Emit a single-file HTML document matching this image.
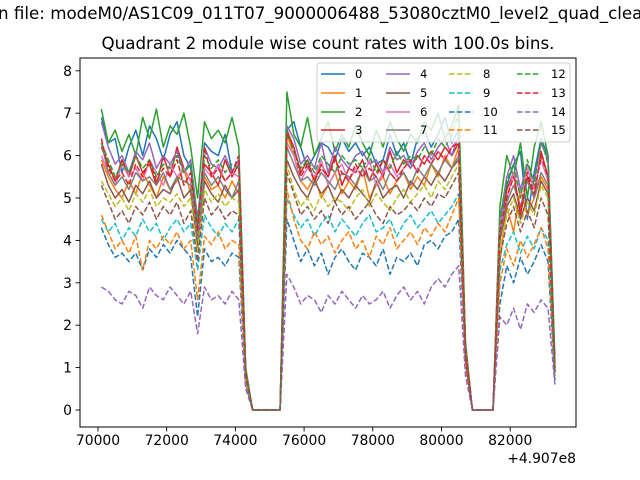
<!DOCTYPE html>
<html><head><meta charset="utf-8"><style>
html,body{margin:0;padding:0;background:#fff;overflow:hidden;width:640px;height:480px}
svg{position:absolute;left:0;top:0}
text{font-family:"DejaVu Sans","Liberation Sans",sans-serif;fill:#000}
</style></head><body>
<svg id="chart" width="640" height="480"></svg>
<script>
const times=[];for(let t=70100;t<=83300;t+=200)times.push(t);
const seriesNames=["0","1","2","3","4","5","6","7","8","9","10","11","12","13","14","15"];
const Z5=[0,0,0,0,0],Z4=[0,0,0,0];
const s0=[6.9,6.3,6.4,5.6,6.2,6.6,6.0,6.7,6.4,5.9,6.5,6.8,6.0,5.7,4.3,6.3,6.1,6.0,6.5,5.6,5.9,0.9,...Z5,6.6,6.8,6.2,5.7,6.0,6.3,6.2,5.9,6.4,6.1,6.3,6.0,6.2,5.8,5.9,6.5,6.0,6.3,5.8,6.4,6.6,6.2,6.5,6.9,6.3,6.6,1.5,...Z4,4.2,5.3,5.8,6.1,4.5,5.6,6.4,6.0,1.1];
const s1=[5.9,5.5,5.2,5.0,5.4,5.1,5.6,5.3,5.0,5.5,5.2,5.4,5.7,5.1,4.0,5.5,5.2,5.3,5.0,5.4,5.1,0.8,...Z5,6.5,6.0,5.4,5.2,5.5,5.0,5.3,5.6,5.1,5.4,5.2,5.7,5.0,5.3,5.5,5.1,5.4,5.6,5.2,5.5,5.3,5.8,5.5,6.0,5.7,6.2,1.4,...Z4,3.5,4.8,4.2,5.2,4.6,5.0,5.5,5.2,1.0];
const s2=[7.1,6.3,6.6,6.1,6.5,6.0,6.9,6.4,7.1,6.2,6.7,6.5,7.0,6.2,5.0,6.8,6.4,6.6,6.3,6.9,6.2,1.0,...Z5,7.5,6.5,6.2,6.9,6.0,6.4,6.8,6.1,6.5,6.2,6.7,6.3,6.0,6.6,6.2,6.8,6.4,6.1,6.5,6.3,6.8,6.6,7.0,6.4,6.7,7.2,1.6,...Z4,4.8,6.0,5.5,6.3,5.0,6.2,6.8,6.0,1.2];
const s3=[6.2,5.8,5.4,5.9,5.5,6.0,5.6,5.8,5.3,6.0,5.5,6.2,5.7,5.4,4.2,5.8,5.6,5.3,5.9,5.5,5.8,0.9,...Z5,6.6,6.2,5.6,5.9,5.4,5.8,5.5,6.0,5.3,5.7,5.6,5.9,5.4,5.8,5.5,6.1,5.6,5.9,5.7,6.0,5.8,6.1,5.9,6.2,6.0,6.3,1.5,...Z4,4.0,5.2,5.6,4.6,5.5,5.0,6.1,5.5,1.0];
const s4=[6.8,6.2,5.8,6.0,5.6,6.1,5.9,6.3,5.7,6.0,5.8,6.1,5.6,5.9,4.5,6.2,5.8,5.7,6.0,5.6,5.9,0.9,...Z5,6.7,6.4,5.8,6.0,5.7,6.3,5.6,6.2,5.9,5.7,6.0,6.1,5.8,5.9,5.6,6.2,5.9,6.0,5.7,6.1,6.3,5.9,6.2,6.4,6.0,6.5,1.4,...Z4,4.5,5.5,6.0,5.2,5.8,5.4,6.3,5.9,0.9];
const s5=[5.8,5.3,5.0,5.2,4.9,5.3,5.1,5.4,5.0,5.2,5.1,5.5,5.0,5.2,3.8,5.4,5.1,4.9,5.3,5.0,5.2,0.8,...Z5,5.9,5.5,5.2,5.0,5.4,5.1,5.3,4.9,5.2,5.0,5.3,5.1,4.9,5.4,5.0,5.2,5.3,5.0,5.4,5.2,5.5,5.3,5.6,5.4,5.7,5.9,1.3,...Z4,4.0,4.8,5.1,4.5,5.0,4.7,5.4,5.1,0.9];
const s6=[6.0,5.6,5.3,5.8,5.5,5.7,5.4,5.9,5.6,5.3,5.8,5.5,5.7,5.4,4.1,5.7,5.5,5.8,5.4,5.6,5.5,0.9,...Z5,6.3,6.0,5.4,5.7,5.5,5.9,5.3,5.6,5.8,5.4,5.7,5.5,5.9,5.3,5.6,5.8,5.5,5.7,5.9,5.6,6.0,5.8,6.1,5.9,6.2,6.4,1.4,...Z4,4.3,5.0,5.6,5.1,5.7,5.2,5.9,5.4,0.9];
const s7=[6.3,5.6,5.3,5.5,5.2,5.6,5.4,5.5,5.3,5.6,5.2,5.5,5.4,5.3,4.0,5.6,5.3,5.5,5.2,5.0,5.4,0.8,...Z5,6.2,5.8,5.4,5.5,5.3,5.6,5.4,5.2,5.6,5.5,5.3,5.7,5.4,5.5,5.2,5.6,5.4,5.6,5.3,5.7,5.5,5.8,5.6,5.9,5.7,6.0,1.3,...Z4,4.1,4.9,5.3,4.8,5.4,5.0,5.6,5.3,0.9];
const s8=[5.4,5.1,4.8,5.0,4.7,5.1,4.9,5.2,4.8,5.0,4.9,5.1,4.8,5.0,3.7,5.2,4.9,5.1,4.8,5.0,4.9,0.8,...Z5,5.8,5.2,4.8,5.0,4.7,5.1,4.8,5.0,4.9,4.7,5.0,5.2,4.8,5.1,4.9,4.7,5.0,5.2,4.9,5.1,5.3,5.0,5.4,5.2,5.5,5.8,1.3,...Z4,3.8,4.6,5.0,4.4,4.9,4.6,5.3,5.0,0.8];
const s9=[4.5,4.2,4.4,4.0,4.3,4.1,4.5,4.2,4.4,4.0,4.3,4.5,4.2,4.4,3.3,4.6,4.3,4.1,4.4,4.2,4.5,0.7,...Z5,5.0,4.6,4.3,4.5,4.1,4.4,4.6,4.2,4.5,4.3,4.1,4.4,4.6,4.2,4.3,4.5,4.1,4.4,4.6,4.3,4.5,4.7,4.4,4.6,4.8,5.1,1.1,...Z4,3.3,3.9,4.2,3.7,4.1,3.8,4.3,4.0,0.8];
const s10=[4.3,3.9,3.6,3.7,3.5,3.7,3.3,3.8,3.6,3.9,3.7,4.0,3.8,3.6,2.2,3.8,3.5,3.6,3.4,3.7,3.6,0.6,...Z5,4.5,4.0,3.5,3.8,3.4,3.7,3.2,3.6,3.8,3.5,3.3,3.7,3.6,3.4,3.8,3.2,3.6,3.5,3.7,3.4,3.9,4.0,3.8,4.1,4.2,4.5,1.0,...Z4,2.5,3.4,3.0,3.6,3.2,3.5,3.9,3.5,0.7];
const s11=[4.6,4.2,3.8,4.0,3.7,4.1,3.3,4.0,3.8,4.1,3.9,4.2,3.8,4.0,2.6,4.1,3.9,4.2,3.8,4.0,3.9,0.7,...Z5,5.2,4.5,4.0,3.8,4.2,3.9,4.1,3.7,4.0,4.2,3.8,4.0,3.6,4.1,3.9,4.3,3.8,4.0,4.2,3.9,4.3,4.1,4.4,4.2,4.6,5.0,1.1,...Z4,3.0,3.8,3.4,4.0,3.6,3.9,4.3,3.8,0.8];
const s12=[6.3,5.9,5.5,5.8,5.6,6.0,5.7,5.9,5.5,5.8,5.7,6.0,5.6,5.8,4.4,6.0,5.7,5.9,5.6,5.8,5.7,0.9,...Z5,6.6,6.1,5.7,5.9,5.6,6.0,5.8,5.6,6.0,5.8,5.9,5.7,6.0,5.6,5.9,5.7,6.1,5.8,6.0,5.9,6.2,6.0,6.4,6.2,6.5,7.0,1.5,...Z4,4.4,5.4,5.8,5.0,5.9,5.3,6.4,5.8,1.0];
const s13=[6.4,5.7,5.4,5.6,5.3,5.8,5.5,5.9,5.4,5.7,5.5,5.9,5.3,5.6,4.2,6.2,5.5,5.7,5.4,5.6,6.0,0.9,...Z5,6.5,6.2,5.5,5.8,5.4,5.7,5.5,5.9,5.6,5.4,5.8,5.5,5.7,5.5,5.9,5.6,5.4,5.7,5.9,5.6,6.0,5.8,6.1,5.9,6.2,6.3,1.4,...Z4,4.2,5.0,5.5,4.7,5.6,5.1,6.0,5.5,1.0];
const s14=[2.9,2.8,2.6,2.5,2.8,2.7,2.4,2.9,2.7,2.6,2.9,2.7,2.5,2.8,1.8,2.9,2.6,2.7,2.5,2.8,2.6,0.5,...Z5,3.2,2.9,2.5,2.7,2.6,2.3,2.7,2.5,2.8,2.6,2.4,2.7,2.5,2.6,2.8,2.4,2.7,2.9,2.6,2.8,2.5,2.9,3.1,2.9,3.2,3.4,0.8,...Z4,2.2,2.0,2.4,1.9,2.5,2.3,2.6,2.4,0.6];
const s15=[5.3,4.9,4.5,4.7,4.4,4.8,4.6,4.9,4.5,4.8,4.6,4.9,4.4,4.7,3.5,5.0,4.6,4.8,4.5,4.7,4.6,0.8,...Z5,5.6,5.1,4.6,4.8,4.5,4.7,4.4,4.9,4.6,4.8,4.5,4.7,4.9,4.6,4.4,4.8,4.6,4.7,4.9,4.7,5.0,4.8,5.1,5.0,5.3,5.6,1.2,...Z4,3.6,4.4,4.8,4.2,4.7,4.3,5.0,4.6,0.9];
const allSeries=[s0,s1,s2,s3,s4,s5,s6,s7,s8,s9,s10,s11,s12,s13,s14,s15];
const xTicks=[70000,72000,74000,76000,78000,80000,82000];
const yTicks=[0,1,2,3,4,5,6,7,8];

const colors=["#1f77b4","#ff7f0e","#2ca02c","#d62728","#9467bd","#8c564b","#e377c2","#7f7f7f","#bcbd22","#17becf","#1f77b4","#ff7f0e","#2ca02c","#d62728","#9467bd","#8c564b"];
const NS="http://www.w3.org/2000/svg";
const svg=document.getElementById('chart');
const L=80,R=576,T=58,B=427;
const xS=v=>98+(v-70000)*(68.7/2000);
const yS=v=>410-v*42.4;
function mk(tag,attrs,parent){const e=document.createElementNS(NS,tag);for(const k in attrs)e.setAttribute(k,attrs[k]);(parent||svg).appendChild(e);return e;}

const sup=mk('text',{x:-2,y:19,'font-size':'16.7'});sup.textContent="n file: modeM0/AS1C09_011T07_9000006488_53080cztM0_level2_quad_clean.evt";


const ttl=mk('text',{x:328,y:49,'font-size':'16.7','text-anchor':'middle'});ttl.textContent="Quadrant 2 module wise count rates with 100.0s bins.";



const plot=mk('g',{});


const cp=mk('clipPath',{id:'clp'});
mk('rect',{x:L,y:T,width:R-L,height:B-T},cp);

allSeries.forEach((s,i)=>{
  const n=Math.min(s.length,times.length);
  let d='';for(let j=0;j<n;j++)d+=(j?'L':'M')+xS(times[j]).toFixed(1)+','+yS(s[j]).toFixed(1);
  const p=mk('path',{d:d,fill:'none',stroke:colors[i],'stroke-width':1.5,'stroke-linejoin':'round','clip-path':'url(#clp)'},plot);
  if(i>=8)p.setAttribute('stroke-dasharray','5.5,2.4');
  
  
});

const frame=mk('rect',{x:L,y:T,width:R-L,height:B-T,fill:'none',stroke:'#000','stroke-width':1});



xTicks.forEach(v=>{
  const x=xS(v);
  mk('line',{x1:x,x2:x,y1:B,y2:B+4.5,stroke:'#000','stroke-width':0.9});
  const t=mk('text',{x:x,y:B+18,'font-size':'13.9','text-anchor':'middle'});t.textContent=v;
  
  
});
yTicks.forEach(v=>{
  const y=yS(v);
  mk('line',{x1:L-4.5,x2:L,y1:y,y2:y,stroke:'#000','stroke-width':0.9});
  const t=mk('text',{x:L-8,y:y+5,'font-size':'13.9','text-anchor':'end'});t.textContent=v;
  
  
});
const off=mk('text',{x:R,y:B+36,'font-size':'13.9','text-anchor':'end'});off.textContent="+4.907e8";



const leg=mk('g',{});


mk('rect',{x:317,y:63,width:253,height:79,rx:3,fill:'#fff','fill-opacity':0.8,stroke:'#ccc','stroke-width':1},leg);
const colX=[321,386,449,517],rowY=[74,93,112,130];
seriesNames.forEach((nm,i)=>{
  const c=Math.floor(i/4),r=i%4;
  const e=mk('g',{},leg);
  
  
  const ln=mk('line',{x1:colX[c],x2:colX[c]+24,y1:rowY[r],y2:rowY[r],stroke:colors[i],'stroke-width':1.5},e);
  if(i>=8)ln.setAttribute('stroke-dasharray','5.5,2.4');
  const t=mk('text',{x:colX[c]+34,y:rowY[r]+4,'font-size':'11.6'},e);t.textContent=nm;
});
</script>
</body></html>
